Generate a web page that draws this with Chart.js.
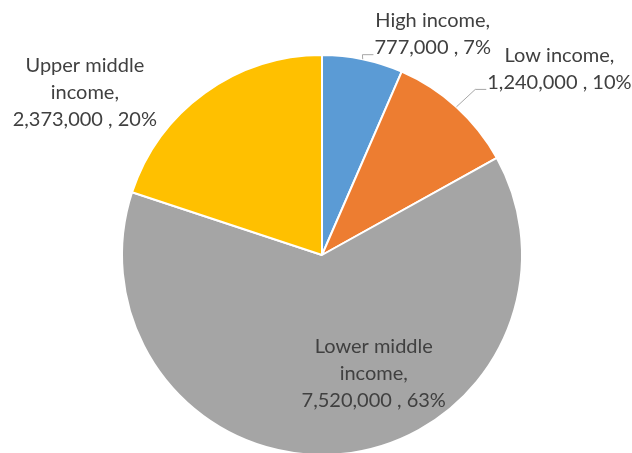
<!DOCTYPE html>
<html>
<head>
<meta charset="utf-8">
<script src="https://cdn.jsdelivr.net/npm/chart.js@4.4.1/dist/chart.umd.min.js"></script>
<style>
  html, body { margin: 0; padding: 0; background: #ffffff; overflow: hidden; }
  #wrap { width: 632px; height: 460px; position: relative; }
</style>
</head>
<body>
<div id="wrap"><canvas id="c" width="632" height="460"></canvas></div>
<script>
// ---- data ----
const categories = ["High income", "Low income", "Lower middle income", "Upper middle income"];
const values = [777000, 1240000, 7520000, 2373000];
const colors = ["#5B9BD5", "#ED7D31", "#A5A5A5", "#FFC000"];

// ---- label layout (style, relative to each slice's outer mid-point) ----
const labelOffsets = [
  { dx: 70, dy: -25, leader: true },
  { dx: 103, dy: -38, leader: true },
  { dx: 33, dy: -81, leader: false },
  { dx: -120, dy: 0, leader: false }
];
const FONT_SIZE = 20;
const LINE_H = 27;
const FONT = FONT_SIZE + "px Lato";
const TEXT_COLOR = "#404040";
const WRAP_W = 150;

function wrap(ctx, text, maxW) {
  const words = text.split(" ");
  const lines = [];
  let cur = "";
  for (const w of words) {
    const t = cur ? cur + " " + w : w;
    if (ctx.measureText(t).width > maxW && cur) { lines.push(cur); cur = w; }
    else cur = t;
  }
  if (cur) lines.push(cur);
  return lines;
}

const labelPlugin = {
  id: "excelLabels",
  afterDatasetsDraw(chart) {
    const ctx = chart.ctx;
    const meta = chart.getDatasetMeta(0);
    const data = chart.data.datasets[0].data;
    const total = data.reduce((a, b) => a + b, 0);
    ctx.save();
    ctx.font = FONT;
    ctx.textAlign = "center";
    ctx.textBaseline = "middle";
    meta.data.forEach((arc, i) => {
      const p = arc.getProps(["x", "y", "startAngle", "endAngle", "outerRadius"], true);
      const mid = (p.startAngle + p.endAngle) / 2;
      const ex = p.x + Math.cos(mid) * p.outerRadius;
      const ey = p.y + Math.sin(mid) * p.outerRadius;
      const off = labelOffsets[i];
      const cx = ex + off.dx, cy = ey + off.dy;
      const pct = Math.round(data[i] / total * 100);
      const lines = wrap(ctx, chart.data.labels[i] + ",", WRAP_W);
      lines.push(data[i].toLocaleString("en-US") + " , " + pct + "%");
      const top = cy - (lines.length - 1) * LINE_H / 2;
      ctx.fillStyle = TEXT_COLOR;
      lines.forEach((ln, k) => ctx.fillText(ln, cx, top + k * LINE_H));
      if (off.leader) {
        const last = lines[lines.length - 1];
        const w = ctx.measureText(last).width;
        const left = cx - w / 2;
        const ly = top + (lines.length - 1) * LINE_H + 7;
        ctx.strokeStyle = "#A6A6A6";
        ctx.lineWidth = 1;
        ctx.beginPath();
        ctx.moveTo(ex, ey);
        ctx.lineTo(left - 12, ly);
        ctx.lineTo(left - 1, ly);
        ctx.stroke();
      }
    });
    ctx.restore();
  }
};

new Chart(document.getElementById("c"), {
  type: "pie",
  data: {
    labels: categories,
    datasets: [{
      data: values,
      backgroundColor: colors,
      borderColor: "#ffffff",
      borderWidth: 2
    }]
  },
  options: {
    responsive: false,
    animation: false,
    layout: { padding: { top: 54, left: 121, right: 109, bottom: 4 } },
    plugins: {
      legend: { display: false },
      tooltip: { enabled: false }
    }
  },
  plugins: [labelPlugin]
});
</script>
</body>
</html>
